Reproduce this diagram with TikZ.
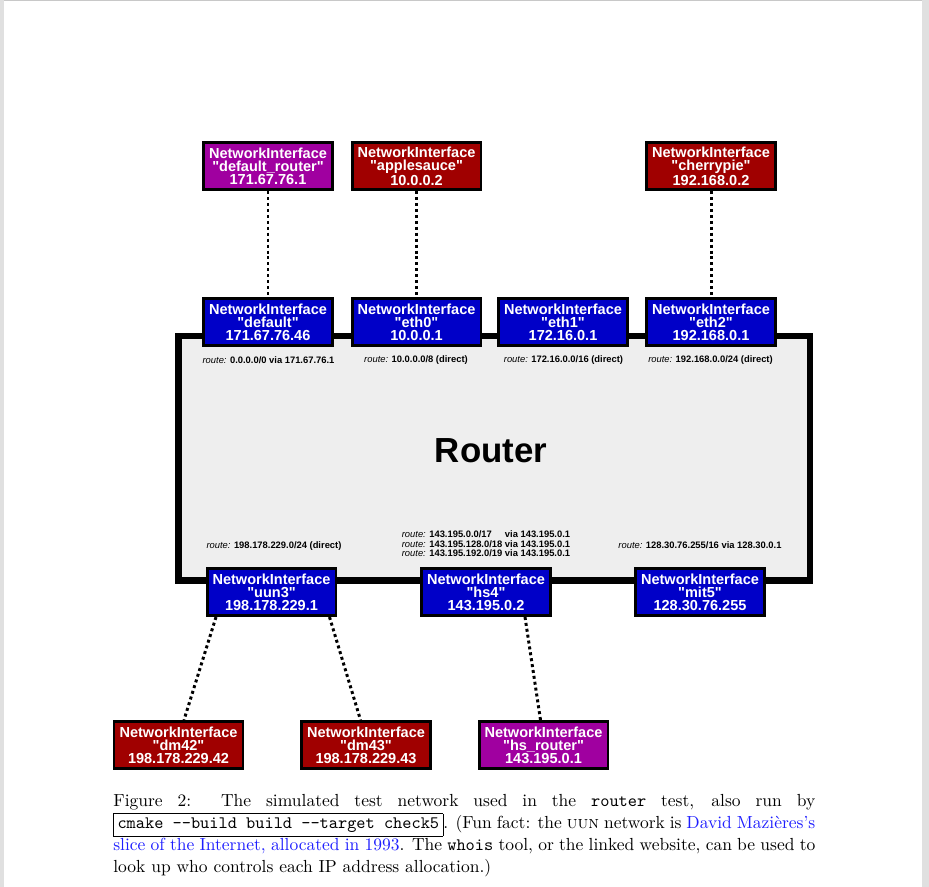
\documentclass[tikz,border=0pt]{standalone}
\usepackage{fontspec}
\newfontfamily\hv{Liberation Sans}
\usetikzlibrary{calc}
\definecolor{nipurple}{RGB}{160,0,160}
\definecolor{nired}{RGB}{160,0,0}
\definecolor{niblue}{RGB}{0,0,200}
\definecolor{routerfill}{RGB}{238,238,238}
\definecolor{pagegray}{RGB}{224,224,224}
\definecolor{pageline}{RGB}{200,200,200}
\definecolor{linkblue}{RGB}{30,30,255}
\begin{document}
\begin{tikzpicture}[x=0.5714pt,y=-0.5714pt,
  ni/.style={draw=black, line width=1.7pt, minimum width=73.7pt, minimum height=26.9pt,
    inner sep=0pt, align=center, text=white,
    font=\hv\bfseries\fontsize{8.3}{7.4}\selectfont},
  purp/.style={ni, fill=nipurple},
  redn/.style={ni, fill=nired},
  blun/.style={ni, fill=niblue},
  routerbox/.style={draw=black, fill=routerfill, line width=3.7pt,
    minimum width=360.8pt, minimum height=139.7pt, inner sep=0pt},
  routelbl/.style={inner sep=0pt, align=center, font=\hv\fontsize{5.36}{5.1}\selectfont},
  link/.style={line width=1.7pt, dash pattern=on 1.7pt off 1.7pt}
]
% page
\useasboundingbox (0,0) rectangle (929,887);
\fill[white] (0,0) rectangle (929,887);
\fill[pagegray] (0,0) rectangle (4,887);
\fill[pagegray] (922,0) rectangle (929,887);
\fill[pageline] (4,0) rectangle (922,1.3);

% router
\node[routerbox] (router) at (494.25,458.25) {};
\node[inner sep=0pt, font=\hv\bfseries\fontsize{19.9}{20}\selectfont] (routerlabel) at (491,451) {Router};

% top row
\node[purp] (defrouter) at (268,166) {NetworkInterface\\"default\_router"\\171.67.76.1};
\node[redn] (applesauce) at (416.5,166) {NetworkInterface\\"applesauce"\\10.0.0.2};
\node[redn] (cherrypie) at (711,166) {NetworkInterface\\"cherrypie"\\192.168.0.2};

% router interfaces top
\node[blun] (default) at (268,322) {NetworkInterface\\"default"\\171.67.76.46};
\node[blun] (eth0) at (416.5,322) {NetworkInterface\\"eth0"\\10.0.0.1};
\node[blun] (eth1) at (563,322) {NetworkInterface\\"eth1"\\172.16.0.1};
\node[blun] (eth2) at (711,322) {NetworkInterface\\"eth2"\\192.168.0.1};

% router interfaces bottom
\node[blun] (uun3) at (271.5,592) {NetworkInterface\\"uun3"\\198.178.229.1};
\node[blun] (hs4) at (486,592) {NetworkInterface\\"hs4"\\143.195.0.2};
\node[blun] (mit5) at (700,592) {NetworkInterface\\"mit5"\\128.30.76.255};

% bottom row
\node[redn] (dm42) at (178.5,745) {NetworkInterface\\"dm42"\\198.178.229.42};
\node[redn] (dm43) at (366,745) {NetworkInterface\\"dm43"\\198.178.229.43};
\node[purp] (hsrouter) at (543.5,745) {NetworkInterface\\"hs\_router"\\143.195.0.1};

% route labels
\node[routelbl] (rdefault) at (268.5,360) {{\itshape route:} \textbf{0.0.0.0/0 via 171.67.76.1}};
\node[routelbl] (reth0) at (416,360) {{\itshape route:} \textbf{10.0.0.0/8 (direct)}};
\node[routelbl] (reth1) at (563.5,360) {{\itshape route:} \textbf{172.16.0.0/16 (direct)}};
\node[routelbl] (reth2) at (710.5,360) {{\itshape route:} \textbf{192.168.0.0/24 (direct)}};
\node[routelbl] (ruun3) at (274,546) {{\itshape route:} \textbf{198.178.229.0/24 (direct)}};
\node[routelbl] (rhs4) at (486,545) {\begin{tabular}{@{}l@{\ }l@{}}
{\itshape route:} \textbf{143.195.0.0/17} & \textbf{via 143.195.0.1}\\
{\itshape route:} \textbf{143.195.128.0/18} & \textbf{via 143.195.0.1}\\
{\itshape route:} \textbf{143.195.192.0/19} & \textbf{via 143.195.0.1}
\end{tabular}};
\node[routelbl] (rmit5) at (700,545) {{\itshape route:} \textbf{128.30.76.255/16 via 128.30.0.1}};

% connectors
\draw[link] (defrouter.south) -- (default.north);
\draw[link] (applesauce.south) -- (eth0.north);
\draw[link] (cherrypie.south) -- (eth2.north);
\draw[link] ($(uun3.south)+(-55.5,0)$) -- ($(dm42.north)+(5.5,0)$);
\draw[link] ($(uun3.south)+(58,0)$) -- ($(dm43.north)+(-5.5,0)$);
\draw[link] ($(hs4.south)+(39,0)$) -- ($(hsrouter.north)+(-3,0)$);

% caption
\node[anchor=base west, inner sep=0pt] (caption) at (113,806) {\parbox[t]{401.1pt}{\fontsize{10}{12.6}\selectfont\fboxsep=2pt
Figure 2:\ \ The simulated test network used in the \texttt{router} test, also run by\linebreak
\fbox{\texttt{cmake -{}-build build -{}-target check5}}. (Fun fact: the \textsc{uun} network is \textcolor{linkblue}{David Mazières’s}\linebreak
\textcolor{linkblue}{slice of the Internet, allocated in 1993}. The \texttt{whois} tool, or the linked website, can be used to\linebreak
look up who controls each IP address allocation.)}};
\end{tikzpicture}
\end{document}
